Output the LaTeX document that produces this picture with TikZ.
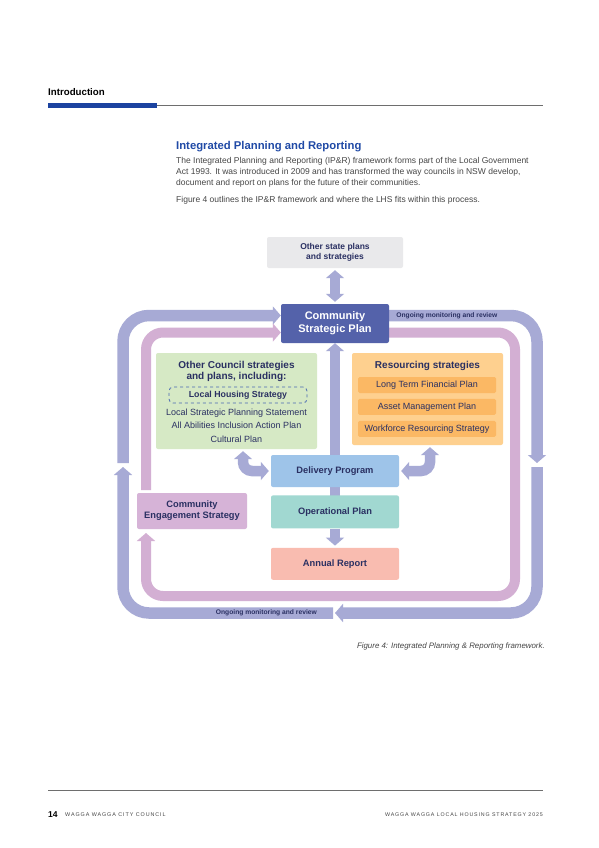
\documentclass[tikz,border=0pt]{standalone}
\usepackage{fontspec}
\setmainfont{Liberation Sans}
\usetikzlibrary{positioning, arrows.meta, backgrounds}

\definecolor{lav}{RGB}{167,170,213}
\definecolor{pnk}{RGB}{211,175,211}
\definecolor{cspblue}{RGB}{84,98,170}
\definecolor{txtnavy}{RGB}{42,48,98}
\definecolor{headblue}{RGB}{32,74,166}
\definecolor{barblue}{RGB}{28,67,160}
\definecolor{rulegray}{RGB}{110,110,110}
\definecolor{bodygray}{RGB}{70,70,70}
\definecolor{ospgray}{RGB}{233,233,235}
\definecolor{ocsgreen}{RGB}{214,233,197}
\definecolor{resorange}{RGB}{254,208,143}
\definecolor{suborange}{RGB}{251,184,100}
\definecolor{dpblue}{RGB}{158,196,233}
\definecolor{opteal}{RGB}{161,216,209}
\definecolor{arsalmon}{RGB}{249,188,176}
\definecolor{cespink}{RGB}{214,179,215}

\tikzset{
>={Triangle[width=18pt,length=8pt]}, % wide flat heads on the bands
box/.style={rectangle, rounded corners=2pt, text=txtnavy, align=center, inner sep=0pt,
  minimum width=128pt, minimum height=32pt, font=\bfseries\fontsize{9.3}{11}\selectfont}, % every coloured box
title/.style={text=txtnavy, align=center, inner sep=0pt, font=\bfseries\fontsize{10}{11}\selectfont}, % heading inside a group box
itemtext/.style={text=txtnavy, align=center, inner sep=0pt, font=\fontsize{9}{13.5}\selectfont}, % plain list lines
subbox/.style={rectangle, fill=suborange, rounded corners=1.5pt, text=txtnavy, inner sep=0pt,
  minimum width=138pt, minimum height=16pt, font=\fontsize{9}{11}\selectfont}, % resourcing entries
lhsbox/.style={rectangle, draw=barblue!80, dashed, line width=0.8pt, rounded corners=4pt, text=txtnavy,
  inner sep=0pt, minimum width=138pt, minimum height=16pt, font=\bfseries\fontsize{8.8}{11}\selectfont}, % highlighted LHS
lavband/.style={draw=lav, line width=10.5pt}, % inner connectors
outerband/.style={draw=lav, line width=11.5pt, rounded corners=26pt}, % outer review loop
pinkband/.style={draw=pnk, line width=10pt, rounded corners=17pt}, % engagement loop
looplabel/.style={text=txtnavy, inner sep=0pt, font=\bfseries\fontsize{6.7}{8}\selectfont}, % text on the loop
bodytext/.style={text=bodygray, align=left, inner sep=0pt, font=\fontsize{8.5}{11}\selectfont}, % page text
}

\begin{document}
\begin{tikzpicture}[x=1pt, y=-1pt]
\useasboundingbox (0,0) rectangle (599,848);

% page header and text
\node[anchor=west, inner sep=0pt, font=\bfseries\fontsize{9.7}{11}\selectfont] (intro) at (48,92) {Introduction};
\fill[barblue] (48,103) rectangle (157,108);
\draw[rulegray, line width=0.8pt] (157,105.5) -- (543,105.5);
\node[anchor=west, inner sep=0pt, text=headblue, font=\bfseries\fontsize{11.3}{13}\selectfont] (ipr) at (176,147) {Integrated Planning and Reporting};
\node[bodytext, anchor=north west] (para1) at (176,157.5) {The Integrated Planning and Reporting (IP\&R) framework forms part of the Local Government\\Act 1993. It was introduced in 2009 and has transformed the way councils in NSW develop,\\document and report on plans for the future of their communities.};
\node[bodytext, anchor=north west] (para2) at (176,196.5) {Figure 4 outlines the IP\&R framework and where the LHS fits within this process.};

% boxes
\node[box, fill=ospgray, minimum width=136pt, minimum height=31pt, font=\bfseries\fontsize{8.5}{10}\selectfont] (osp) at (335,252.5) {Other state plans\\and strategies};
\node[box, fill=cspblue, text=white, minimum width=108pt, minimum height=39pt, font=\bfseries\fontsize{11}{13}\selectfont] (csp) at (335,323.5) {Community\\Strategic Plan};

\node[box, fill=ocsgreen, minimum width=161pt, minimum height=96pt] (ocs) at (236.5,401) {};
\node[title] (ocstitle) at (236.5,371.5) {Other Council strategies\\and plans, including:};
\node[lhsbox] (lhs) at (238,395) {Local Housing Strategy};
\node[itemtext] (ocsitems) at (236.5,425.5) {Local Strategic Planning Statement\\All Abilities Inclusion Action Plan\\Cultural Plan};

\node[box, fill=resorange, minimum width=151pt, minimum height=92pt] (res) at (427.5,399) {};
\node[title] (restitle) at (427.5,366) {Resourcing strategies};
\node[subbox] (ltfp) at (427,385) {Long Term Financial Plan};
\node[subbox, below=5.5pt of ltfp] (amp) {Asset Management Plan};
\node[subbox, below=5.5pt of amp] (wrs) {Workforce Resourcing Strategy};

\node[box, fill=dpblue] (dp) at (335,471) {Delivery Program};
\node[box, fill=opteal, minimum height=33pt, below=8pt of dp] (op) {Operational Plan};
\node[box, fill=arsalmon, below=19pt of op] (ar) {Annual Report};
\node[box, fill=cespink, minimum width=110pt, minimum height=36pt] (ces) at (192,511) {Community\\Engagement Strategy};

% loop ends
\coordinate (ort) at (537,463);
\coordinate (orb) at (537,467);
\coordinate (obm) at (335,613);
\coordinate (obl) at (333,613);
\coordinate (olb) at (123,467);
\coordinate (olt) at (123,463);
\coordinate (pt) at (146,490);
\coordinate (prc) at (515,596);
\coordinate (pb) at (146,533);

\begin{scope}[on background layer]
\fill[white] (0,0) rectangle (599,848);
\draw[lavband, <->, shorten <=2pt, shorten >=2pt] (osp.south) -- (csp.north);
\draw[lavband, ->] (op.center) -- (csp.south);
\draw[lavband, ->, shorten >=2pt] (op.south) -- (ar.north);
\draw[lavband, <->, rounded corners=9pt, shorten <=2pt, shorten >=2pt] ([xshift=6.5pt]ocs.south) |- (dp.west);
\draw[lavband, <->, rounded corners=9pt, shorten <=2pt, shorten >=2pt] ([xshift=2.5pt]res.south) |- (dp.east);

\draw[outerband, ->] ([yshift=8pt]csp.east) -| (ort);
\draw[outerband, ->] (orb) |- (obm);
\draw[outerband, ->] (obl) -| (olb);
\draw[outerband, ->] (olt) |- ([yshift=8pt]csp.west);

\draw[pinkband, ->] (pt) |- ([yshift=-9pt]csp.west);
\draw[pinkband, ->] ([yshift=-9pt]csp.east) -| (prc) -| (pb);
\end{scope}

\node[looplabel, anchor=west] (montop) at ([xshift=7pt,yshift=8pt]csp.east) {Ongoing monitoring and review};
\node[looplabel, anchor=east] (monbot) at ([xshift=-16pt]obl) {Ongoing monitoring and review};

% caption and footer
\node[anchor=east, inner sep=0pt, text=bodygray, font=\itshape\fontsize{7.9}{9}\selectfont] (cap) at (545,646) {Figure 4: Integrated Planning \& Reporting framework.};
\draw[rulegray, line width=0.8pt] (48,790) -- (543,790);
\node[anchor=west, inner sep=0pt, font=\bfseries\fontsize{8.5}{9}\selectfont] (pgno) at (48,815) {14};
\node[anchor=west, inner sep=0pt, text=bodygray, font=\addfontfeature{LetterSpace=17}\fontsize{5.4}{6}\selectfont] (footl) at (65,815) {WAGGA WAGGA CITY COUNCIL};
\node[anchor=east, inner sep=0pt, text=bodygray, font=\addfontfeature{LetterSpace=16}\fontsize{5.3}{6}\selectfont] (footr) at (543,815) {WAGGA WAGGA LOCAL HOUSING STRATEGY 2025};
\end{tikzpicture}
\end{document}
